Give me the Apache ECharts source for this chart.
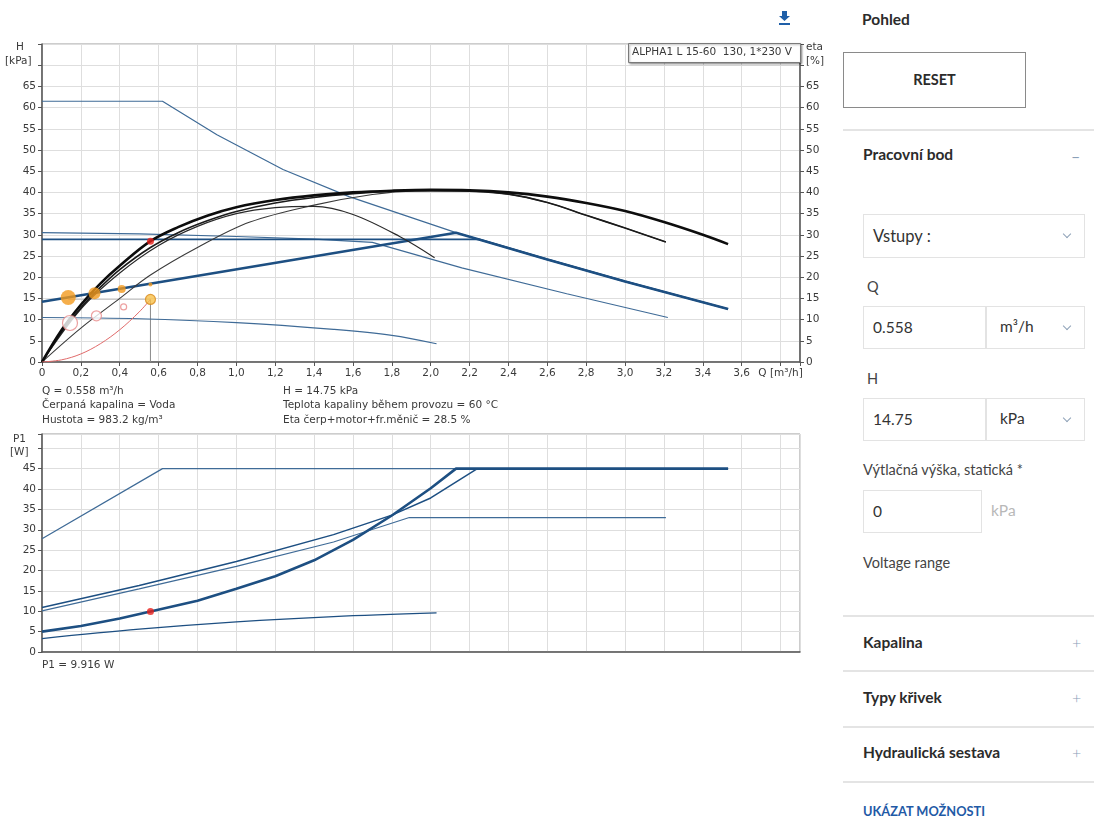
<!DOCTYPE html>
<html>
<head>
<meta charset="utf-8">
<script src="https://cdn.jsdelivr.net/npm/echarts@6.0.0/dist/echarts.min.js"></script>
<style>
  html, body { margin: 0; padding: 0; background: #fff; }
  body { width: 1094px; height: 820px; position: relative; overflow: hidden; font-family: Lato, "Open Sans", sans-serif; color: #333; }
  #chart { position: absolute; left: 0; top: 0; width: 840px; height: 700px; }
  .panel { position: absolute; left: 843px; top: 0; width: 251px; height: 820px; }
  .abs { position: absolute; }
  .h { font-weight: 700; font-size: 15.5px; color: #2b2b2b; }
  .sep { position: absolute; left: 0; width: 251px; height: 2px; background: #e4e4e4; }
  .box { position: absolute; border: 1.5px solid #e3e3e3; box-sizing: border-box; font-size: 15.5px; color: #333; }
  .lbl { font-size: 14.5px; color: #444; }
  .chev { position: absolute; width: 5px; height: 5px; border-right: 1.2px solid #8fa2b8; border-bottom: 1.2px solid #8fa2b8; transform: rotate(45deg); }
  .plus { position: absolute; font-size: 16px; color: #8aa0b8; font-weight: 300; }
</style>
</head>
<body>
<div id="chart"></div>

<div class="panel">
  <div class="abs h" style="left:19px; top:10px;">Pohled</div>
  <div class="abs" style="left:0; top:52px; width:183px; height:56px; border:1.5px solid #8a8a8a; box-sizing:border-box; text-align:center; line-height:53px; font-weight:700; font-size:14.5px; color:#2b2b2b;">RESET</div>
  <div class="sep" style="top:129px;"></div>
  <div class="abs h" style="left:20px; top:145px;">Pracovní bod</div>
  <div class="abs" style="left:228px; top:146px; font-size:16px; color:#8aa0b8;">–</div>

  <div class="box" style="left:20px; top:214px; width:222px; height:44px;"><span class="abs" style="left:9px; top:11px; font-size:16.5px;">Vstupy :</span><span class="chev" style="left:200px; top:16px;"></span></div>

  <div class="abs lbl" style="left:24px; top:278px;">Q</div>
  <div class="box" style="left:20px; top:306px; width:124px; height:43px;"><span class="abs" style="left:9px; top:11px;">0.558</span></div>
  <div class="box" style="left:142px; top:306px; width:100px; height:43px;"><span class="abs" style="left:14px; top:10px;">m³/h</span><span class="chev" style="left:78px; top:16px;"></span></div>

  <div class="abs lbl" style="left:24px; top:370px;">H</div>
  <div class="box" style="left:20px; top:398px; width:124px; height:43px;"><span class="abs" style="left:9px; top:11px;">14.75</span></div>
  <div class="box" style="left:142px; top:398px; width:100px; height:43px;"><span class="abs" style="left:14px; top:10px;">kPa</span><span class="chev" style="left:78px; top:16px;"></span></div>

  <div class="abs lbl" style="left:20px; top:461px;">Výtlačná výška, statická *</div>
  <div class="box" style="left:20px; top:490px; width:119px; height:43px;"><span class="abs" style="left:9px; top:11px;">0</span></div>
  <div class="abs" style="left:148px; top:501px; font-size:15.5px; color:#b8b8b8;">kPa</div>

  <div class="abs lbl" style="left:20px; top:554px;">Voltage range</div>

  <div class="sep" style="top:615px;"></div>
  <div class="abs h" style="left:20px; top:633px;">Kapalina</div>
  <div class="plus" style="left:229px; top:633px;">+</div>
  <div class="sep" style="top:670px;"></div>
  <div class="abs h" style="left:20px; top:688px;">Typy křivek</div>
  <div class="plus" style="left:229px; top:688px;">+</div>
  <div class="sep" style="top:726px;"></div>
  <div class="abs h" style="left:20px; top:743px;">Hydraulická sestava</div>
  <div class="plus" style="left:229px; top:743px;">+</div>
  <div class="sep" style="top:781px;"></div>
  <div class="abs" style="left:20px; top:803px; font-weight:700; font-size:12.8px; color:#1f5aa6;">UKÁZAT MOŽNOSTI</div>
</div>

<script>
// ---- Head curves H(Q), Q in m³/h, H in kPa ----
const qSpeed3 = [0, 0.62, 0.9, 1.24, 1.58, 2.13, 2.6, 3.0, 3.53];
const hSpeed3 = [61.5, 61.5, 53.6, 45.4, 39.0, 30.5, 24.2, 19.0, 12.5];

const qSpeed2 = [0, 0.5, 1.0, 1.4, 1.7, 2.16, 2.7, 3.22];
const hSpeed2 = [30.5, 30.2, 29.6, 29.0, 28.2, 22.2, 16.1, 10.5];

const qSpeed1 = [0, 0.5, 1.0, 1.5, 1.8, 2.03];
const hSpeed1 = [10.5, 10.2, 9.3, 7.7, 6.3, 4.3];

const qConstP = [0, 2.25, 2.6, 3.0, 3.53];
const hConstP = [28.9, 28.9, 24.2, 19.0, 12.5];

const qPropP = [0, 2.13, 2.6, 3.0, 3.53];
const hPropP = [14.2, 30.5, 24.2, 19.0, 12.5];

// system curve up to the duty point
const qSystem = [0, 0.1, 0.2, 0.3, 0.4, 0.5, 0.558];
const hSystem = [0, 0.5, 1.9, 4.3, 7.6, 11.8, 14.75];

// ---- Efficiency curves eta(Q), % ----
const qEta1 = [0, 0.1, 0.2, 0.3, 0.4, 0.558, 0.7, 0.85, 1.0, 1.2, 1.4, 1.6, 1.8, 2.0, 2.2, 2.4, 2.6, 2.8, 3.0, 3.2, 3.4, 3.53];
const eEta1 = [0, 7.5, 13.5, 18.5, 22.7, 28.5, 31.8, 34.5, 36.5, 38.2, 39.3, 40.0, 40.4, 40.6, 40.5, 40.0, 39.0, 37.5, 35.6, 33.0, 30.0, 27.8];

const qEta2 = [0, 0.1, 0.2, 0.3, 0.4, 0.558, 0.7, 0.85, 1.0, 1.2, 1.4, 1.6, 1.8, 2.0, 2.2, 2.4, 2.6, 2.8, 3.0, 3.21];
const eEta2 = [0, 7.0, 12.8, 17.6, 21.8, 27.0, 30.5, 33.3, 35.5, 37.5, 38.8, 39.7, 40.3, 40.5, 40.3, 39.6, 37.6, 34.6, 31.6, 28.3];

const qEta3 = [0, 0.2, 0.4, 0.6, 0.8, 1.0, 1.2, 1.4, 1.6, 1.84, 2.02];
const eEta3 = [0, 12.5, 21.0, 27.5, 32.0, 35.0, 36.4, 36.7, 34.8, 29.6, 24.6];

const qEta4 = [0, 0.2, 0.4, 0.558, 0.8, 1.07, 1.4, 1.7, 1.92, 2.2, 2.4, 2.6, 2.8, 3.0, 3.21];
const eEta4 = [0, 8.0, 15.0, 20.5, 27.0, 33.0, 37.0, 39.5, 40.3, 40.3, 39.6, 37.6, 34.6, 31.6, 28.3];

// ---- Power curves P1(Q), W ----
const qPow3 = [0, 0.62, 3.53];
const pPow3 = [27.8, 45, 45];

const qPow2 = [0, 0.5, 1.0, 1.5, 1.89, 3.21];
const pPow2 = [10.1, 15.5, 21.0, 27.0, 33.0, 33.0];

const qPowCP = [0, 0.5, 1.0, 1.5, 1.8, 2.0, 2.24, 3.53];
const pPowCP = [10.9, 16.3, 22.2, 28.8, 33.6, 37.8, 45, 45];

const qPowPP = [0, 0.2, 0.4, 0.558, 0.8, 1.0, 1.2, 1.4, 1.6, 1.8, 2.0, 2.13, 3.53];
const pPowPP = [5.0, 6.4, 8.2, 9.916, 12.6, 15.5, 18.6, 22.5, 27.5, 33.5, 40.2, 45, 45];

const qPow1 = [0, 0.5, 1.0, 1.5, 2.03];
const pPow1 = [3.3, 5.6, 7.4, 8.7, 9.6];

// ---- Points ----
const dutyQ = 0.558, dutyH = 14.75, dutyEta = 28.5, dutyP = 9.916;
const ppStepsQ = [0.135, 0.27, 0.41, 0.558];
const ppStepsH = [15.2, 16.2, 17.2, 18.3];
const ppStepsSize = [15, 12, 8, 4];
const sysStepsQ = [0.144, 0.28, 0.42];
const sysStepsH = [9.2, 10.9, 13.0];
const sysStepsSize = [15, 10, 6];

const xTickMax = 3.6;   // last numbered Q tick
const hTickMax = 65;    // last numbered H / eta tick
const pTickMax = 45;    // last numbered P1 tick

const infoLeft = ['Q = 0.558 m³/h', 'Čerpaná kapalina = Voda', 'Hustota = 983.2 kg/m³'];
const infoRight = ['H = 14.75 kPa', 'Teplota kapaliny během provozu = 60 °C', 'Eta čerp+motor+fr.měnič = 28.5 %'];
const powerInfo = 'P1 = 9.916 W';
const pumpTitle = 'ALPHA1 L 15-60  130, 1*230 V';

const zip = (a, b) => a.map((x, i) => [x, b[i]]);
const FONT = '"DejaVu Sans", "Liberation Sans", Arial, sans-serif';
const FS = 10.5;
const TXT = '#3a3a3a';
const BLUE = '#1d4f82';
const BLUE_T = '#3f6b97';

function curve(q, v, color, width, grid, yIdx, smooth) {
  return {
    type: 'line', data: zip(q, v), xAxisIndex: grid, yAxisIndex: yIdx,
    symbol: 'none', smooth: smooth ? 0.35 : false, silent: true, z: 3,
    lineStyle: { color: color, width: width }
  };
}

const chart = echarts.init(document.getElementById('chart'), null, { renderer: 'canvas' });

const xLabel = (v) => {
  if (v > xTickMax + 0.1 && v < xTickMax + 0.3) return 'Q [m³/h]';
  if (v > xTickMax + 0.01) return '';
  return v === 0 ? '0' : v.toFixed(1).replace('.', ',');
};

const gridLine = { show: true, lineStyle: { color: '#dedede', width: 1 } };
const axisLineDark = { show: true, lineStyle: { color: '#555', width: 1.5 } };
const lab = (fmt) => ({ color: TXT, fontSize: FS, margin: 6, fontFamily: FONT, formatter: fmt });

const option = {
  animation: false,
  textStyle: { fontFamily: FONT },
  grid: [
    { left: 42, top: 44, width: 758, height: 318, show: true, borderColor: '#9a9a9a', borderWidth: 1 },
    { left: 42, top: 434, width: 758, height: 218, show: true, borderColor: '#9a9a9a', borderWidth: 1 }
  ],
  xAxis: [
    { type: 'value', gridIndex: 0, min: 0, max: 3.9, interval: 0.2,
      axisLine: axisLineDark, axisTick: { show: true, length: 4, lineStyle: { color: '#555' } },
      axisLabel: lab(xLabel), splitLine: gridLine },
    { type: 'value', gridIndex: 1, min: 0, max: 3.9, interval: 0.2,
      axisLine: axisLineDark, axisTick: { show: false }, axisLabel: { show: false },
      splitLine: gridLine }
  ],
  yAxis: [
    { type: 'value', gridIndex: 0, min: 0, max: 75, interval: 5, position: 'left',
      axisLine: axisLineDark, axisTick: { show: true, length: 4, lineStyle: { color: '#555' } },
      axisLabel: lab(v => v <= hTickMax ? String(v) : ''), splitLine: gridLine },
    { type: 'value', gridIndex: 0, min: 0, max: 75, interval: 5, position: 'right',
      axisLine: axisLineDark, axisTick: { show: true, length: 4, lineStyle: { color: '#555' } },
      axisLabel: lab(v => v <= hTickMax ? String(v) : ''), splitLine: { show: false } },
    { type: 'value', gridIndex: 1, min: 0, max: 53.5, interval: 5, position: 'left',
      axisLine: axisLineDark, axisTick: { show: true, length: 4, lineStyle: { color: '#555' } },
      axisLabel: lab(v => v <= pTickMax ? String(v) : ''), splitLine: gridLine }
  ],
  series: [
    // head curves
    curve(qSpeed3, hSpeed3, BLUE_T, 1.2, 0, 0, false),
    curve(qSpeed2, hSpeed2, BLUE_T, 1.2, 0, 0, false),
    curve(qSpeed1, hSpeed1, BLUE_T, 1.2, 0, 0, true),
    curve(qConstP, hConstP, BLUE, 1.8, 0, 0, false),
    curve(qPropP, hPropP, BLUE, 2.6, 0, 0, false),
    // efficiency curves
    curve(qEta4, eEta4, '#3a3a3a', 1.1, 0, 1, true),
    curve(qEta3, eEta3, '#2a2a2a', 1.2, 0, 1, true),
    curve(qEta2, eEta2, '#1a1a1a', 1.6, 0, 1, true),
    curve(qEta1, eEta1, '#0d0d0d', 2.6, 0, 1, true),
    // system curve
    curve(qSystem, hSystem, '#e06a6a', 1, 0, 0, true),
    // duty point guide lines
    { type: 'line', xAxisIndex: 0, yAxisIndex: 0, symbol: 'none', silent: true, z: 2,
      data: [[dutyQ, 0], [dutyQ, dutyH]], lineStyle: { color: '#8a8a8a', width: 1 } },
    { type: 'line', xAxisIndex: 0, yAxisIndex: 0, symbol: 'none', silent: true, z: 2,
      data: [[ppStepsQ[0], dutyH], [dutyQ, dutyH]], lineStyle: { color: '#c9c9c9', width: 1 } },
    // proportional-pressure steps
    { type: 'scatter', xAxisIndex: 0, yAxisIndex: 0, silent: true, z: 5,
      data: zip(ppStepsQ, ppStepsH).map((d, i) => ({ value: d, symbolSize: ppStepsSize[i] })),
      itemStyle: { color: '#f39a1e' } },
    // system steps
    { type: 'scatter', xAxisIndex: 0, yAxisIndex: 0, silent: true, z: 5,
      data: zip(sysStepsQ, sysStepsH).map((d, i) => ({ value: d, symbolSize: sysStepsSize[i] })),
      itemStyle: { color: '#fff', borderColor: '#e88a8a', borderWidth: 1.2 } },
    // duty point
    { type: 'scatter', xAxisIndex: 0, yAxisIndex: 0, silent: true, z: 6,
      data: [[dutyQ, dutyH]], symbolSize: 10,
      itemStyle: { color: '#f7c04a', borderColor: '#d88a1a', borderWidth: 1.2 } },
    { type: 'scatter', xAxisIndex: 0, yAxisIndex: 1, silent: true, z: 6,
      data: [[dutyQ, dutyEta]], symbolSize: 7, itemStyle: { color: '#e8201c' } },
    // power curves
    curve(qPow3, pPow3, BLUE_T, 1.2, 1, 2, false),
    curve(qPow2, pPow2, BLUE_T, 1.2, 1, 2, false),
    curve(qPowCP, pPowCP, BLUE, 1.5, 1, 2, false),
    curve(qPow1, pPow1, BLUE, 1.3, 1, 2, true),
    curve(qPowPP, pPowPP, BLUE, 2.6, 1, 2, false),
    { type: 'scatter', xAxisIndex: 1, yAxisIndex: 2, silent: true, z: 6,
      data: [[dutyQ, dutyP]], symbolSize: 7, itemStyle: { color: '#e8201c' } }
  ],
  graphic: [
    { type: 'text', left: 16, top: 42, style: { text: 'H', fill: TXT, font: FS + 'px ' + FONT } },
    { type: 'text', left: 5, top: 56, style: { text: '[kPa]', fill: TXT, font: FS + 'px ' + FONT } },
    { type: 'text', left: 806, top: 42, style: { text: 'eta', fill: TXT, font: FS + 'px ' + FONT } },
    { type: 'text', left: 806, top: 56, style: { text: '[%]', fill: TXT, font: FS + 'px ' + FONT } },
    { type: 'text', left: 13, top: 434, style: { text: 'P1', fill: TXT, font: FS + 'px ' + FONT } },
    { type: 'text', left: 10, top: 447, style: { text: '[W]', fill: TXT, font: FS + 'px ' + FONT } },
    // pump name box
    { type: 'rect', left: 628, top: 43, z: 10, shape: { width: 172, height: 19 },
      style: { fill: '#fff', stroke: '#7a7a7a', lineWidth: 1, shadowBlur: 2, shadowOffsetX: 1, shadowOffsetY: 1, shadowColor: 'rgba(0,0,0,0.35)' } },
    { type: 'text', left: 632, top: 47, z: 11, style: { text: pumpTitle, fill: TXT, font: FS + 'px ' + FONT } },
    // info text under the head chart
    { type: 'text', left: 42, top: 384, style: { text: infoLeft.join('\n'), fill: TXT, font: FS + 'px ' + FONT, lineHeight: 14.5 } },
    { type: 'text', left: 283, top: 384, style: { text: infoRight.join('\n'), fill: TXT, font: FS + 'px ' + FONT, lineHeight: 14.5 } },
    { type: 'text', left: 42, top: 660, style: { text: powerInfo, fill: TXT, font: FS + 'px ' + FONT } },
    // download icon
    { type: 'polygon', z: 10, shape: { points: [[782, 11], [787, 11], [787, 16], [790, 16], [784.5, 21], [779, 16], [782, 16]] }, style: { fill: '#1f5fa8' } },
    { type: 'rect', z: 10, shape: { x: 779, y: 23, width: 11, height: 2 }, style: { fill: '#1f5fa8' } }
  ]
};

chart.setOption(option);
</script>
</body>
</html>
